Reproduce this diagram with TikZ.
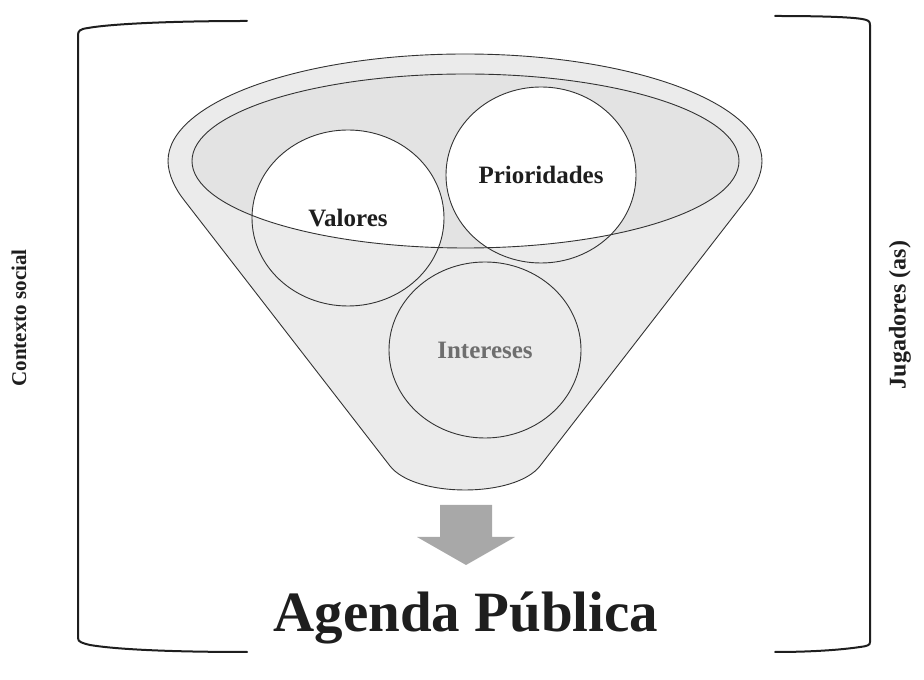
\documentclass[tikz,border=0pt]{standalone}
\usepackage{fontspec}
\setmainfont{Liberation Serif}
\usetikzlibrary{shapes.geometric}
\definecolor{funnelgray}{HTML}{EBEBEB}
\definecolor{bowlgray}{HTML}{E3E3E3}
\definecolor{linegray}{HTML}{333333}
\definecolor{arrowgray}{HTML}{A8A8A8}
\definecolor{textdark}{HTML}{1E1E1E}
\definecolor{textgray}{HTML}{6E6E6E}
\begin{document}
\begin{tikzpicture}[x=1pt,y=1pt,
  bracket/.style={line width=2pt, draw=textdark, line cap=round},
  outline/.style={draw=linegray, line width=0.9pt},
  blob/.style={ellipse, inner sep=0pt, minimum width=192pt, minimum height=176pt, outline, font=\fontsize{25}{30}\selectfont\bfseries},
  sidelabel/.style={rotate=90, font=\fontsize{21}{25}\selectfont\bfseries, text=textdark},
]
\useasboundingbox (0,0) rectangle (924,680);
% brackets
\draw[bracket] (247,659) .. controls (170,659) and (110,656) .. (88,652) .. controls (80,651) and (78,649) .. (78,645) -- (78,42) .. controls (78,38) and (82,37) .. (90,35) .. controls (120,30) and (180,28) .. (247,28);
\draw[bracket] (775,664) .. controls (820,664) and (850,663) .. (862,661) .. controls (868,660) and (870,659) .. (870,655) -- (870,38) .. controls (870,35) and (868,34) .. (860,33) .. controls (840,30) and (810,28) .. (775,28);
% funnel body
\filldraw[fill=funnelgray, outline] (168,519) .. controls (168,505) and (176,490) .. (184,480) -- (390,214) .. controls (415,182) and (515,182) .. (540,214) -- (746,480) .. controls (754,490) and (762,505) .. (762,519) arc[start angle=0, end angle=180, x radius=297pt, y radius=107pt] -- cycle;
% bowl (inner ellipse)
\node[ellipse, minimum width=547pt, minimum height=174pt, inner sep=0pt, fill=bowlgray] (bowl) at (465.5,519) {};
\begin{scope}
  \clip (465.5,519) ellipse[x radius=273.5pt, y radius=87pt];
  \fill[white] (348,462) ellipse[x radius=96pt, y radius=88pt];
  \fill[white] (541,505) ellipse[x radius=95pt, y radius=88pt];
\end{scope}
\node[ellipse, minimum width=547pt, minimum height=174pt, inner sep=0pt, outline] (bowlrim) at (bowl.center) {};
% circles
\node[blob, text=textdark] (valores) at (348,462) {Valores};
\node[blob, minimum width=190pt, text=textdark] (prioridades) at (541,505) {Prioridades};
\node[blob, fill=funnelgray, text=textgray] (intereses) at (485,330) {Intereses};
% arrow
\fill[arrowgray] (440,175) -- (492,175) -- (492,143) -- (515,143) -- (466,115) -- (417,143) -- (440,143) -- cycle;
% result
\node[anchor=base, font=\fontsize{57}{68}\selectfont\bfseries, text=textdark] (agenda) at (466,48) {Agenda Pública};
% side labels
\node[sidelabel] (contexto) at (19,362) {Contexto social};
\node[sidelabel, font=\fontsize{24}{28}\selectfont\bfseries] (jugadores) at (900,365) {Jugadores (as)};
\end{tikzpicture}
\end{document}
